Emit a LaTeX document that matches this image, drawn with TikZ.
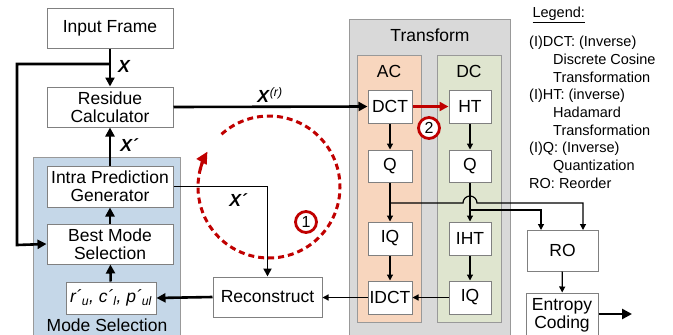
\documentclass[tikz,border=0pt]{standalone}
\usepackage{fontspec}
\setmainfont{Liberation Sans}
\usepackage{xcolor}
\usetikzlibrary{positioning,arrows.meta}

\definecolor{loopred}{RGB}{192,0,0}
\definecolor{boxgray}{RGB}{128,128,128}
\definecolor{trgray}{RGB}{217,217,217}
\definecolor{acfill}{RGB}{248,214,190}
\definecolor{dcfill}{RGB}{223,229,207}
\definecolor{msfill}{RGB}{197,215,232}

\begin{document}
\begin{tikzpicture}[
    x=1pt, y=-1pt,
    every node/.style={font=\fontsize{17.5}{18}\selectfont},
    box/.style={draw=boxgray, line width=1pt, fill=white, align=center, inner sep=1pt},
    sbox/.style={box, minimum width=44pt, minimum height=33pt},
    area/.style={draw=boxgray!80, line width=0.8pt},
    arr/.style={-{Triangle[length=9pt,width=9pt]}, line width=2.6pt},
    marr/.style={-{Triangle[length=8pt,width=8pt]}, line width=1.8pt},
    tarr/.style={-{Triangle[length=6pt,width=6pt]}, line width=1.2pt},
    lbl/.style={font=\fontsize{17.5}{18}\selectfont\bfseries\itshape},
    num/.style={circle, draw=loopred, line width=2.8pt, fill=white, inner sep=0pt,
                minimum size=21pt, font=\fontsize{16}{16}\selectfont},
]
\clip (0,0) rectangle (673,335);
% background areas
\draw[area, fill=msfill] (33,157) rectangle (180,345);
\draw[area, fill=trgray] (349,19) rectangle (510,345);
\draw[area, fill=acfill] (357,55) rectangle (421,322);
\draw[area, fill=dcfill] (437,55) rectangle (501,322);
\node (mslbl) at (107,325) {Mode Selection};
\node (trlbl) at (430,35) {Transform};
\node (aclbl) at (389,71) {AC};
\node (dclbl) at (469,71) {DC};

% left column
\node[box, minimum width=126pt, minimum height=40pt] (inp) at (110,28) {Input Frame};
\node[box, minimum width=126pt, minimum height=40pt] (res) at (110,107) {Residue\\Calculator};
\node[box, minimum width=126pt, minimum height=41pt] (ipg) at (110,186.5) {Intra Prediction\\Generator};
\node[box, minimum width=126pt, minimum height=40pt] (bms) at (110,244) {Best Mode\\Selection};
\node[box, minimum width=90pt, minimum height=32pt, font=\fontsize{17.5}{18}\selectfont\itshape] (rcp) at (111,298)
    {r´\textsubscript{u}, c´\textsubscript{l}, p´\textsubscript{ul}};
\node[box, minimum width=109pt, minimum height=40pt] (rec) at (267.5,297) {Reconstruct};

% transform blocks
\node[sbox] (dct) at (390,106.5) {DCT};
\node[sbox, minimum width=42pt] (ht) at (470,106.5) {HT};
\node[sbox, minimum height=32pt] (qac) at (390,166) {Q};
\node[sbox, minimum width=42pt, minimum height=32pt] (qdc) at (470,166) {Q};
\node[sbox] (iqac) at (390,238.5) {IQ};
\node[sbox, minimum width=42pt] (iht) at (470,238.5) {IHT};
\node[sbox] (idct) at (390,297.5) {IDCT};
\node[sbox, minimum width=42pt] (iqdc) at (470,297.5) {IQ};
\node[box, minimum width=71pt, minimum height=41pt] (ro) at (562.5,250.5) {RO};
\node[box, minimum width=72pt, minimum height=44pt] (ent) at (562,315) {Entropy\\Coding};

% legend
\node[anchor=west, font=\fontsize{14.5}{17.7}\selectfont] (leg) at (529,15) {\underline{Legend:}};
\node[anchor=north west, align=left, inner sep=0pt, font=\fontsize{14.5}{17.7}\selectfont] (legtxt) at (529,36)
    {(I)DCT: (Inverse)\\\hspace{24pt}Discrete Cosine\\\hspace{24pt}Transformation\\
     (I)HT: (inverse)\\\hspace{24pt}Hadamard\\\hspace{24pt}Transformation\\
     (I)Q: (Inverse)\\\hspace{24pt}Quantization\\RO: Reorder};

% main connectors
\coordinate (fb) at (110,64);
\draw[arr] (inp) -- (res);
\draw[line width=2.6pt, -{Triangle[length=9pt,width=9pt]}] (fb) -- (17,64) -- (17,245) -- (bms.west);
\draw[arr] (ipg) -- (res);
\draw[arr] (bms) -- (ipg);
\draw[arr] (rcp) -- (bms);
\draw[arr] (res.east) -- (dct.west);
\draw[marr] (ipg.east) -| (rec.north);
\draw[arr] (rec.west) -- (rcp.east);
\draw[tarr] (idct.west) -- (rec.east |- idct.west);
\node[lbl] (xin) at (124,66) {X};
\node[lbl] (xpr) at (129,145) {X´};
\node (xr) at (270,95) {\textbf{\textit{X}}\textsuperscript{\textit{(r)}}};
\node[lbl] (xpr2) at (238,200) {X´};

% transform connectors
\draw[draw=loopred, fill=loopred, line width=2.3pt, -{Triangle[length=9pt,width=9pt]}] (dct) -- (ht);
\draw[tarr] (dct) -- (qac);
\draw[tarr] (qac) -- (iqac);
\draw[tarr] (iqac) -- (idct);
\draw[tarr] (ht) -- (qdc);
\draw[tarr] (qdc) -- (iht);
\draw[tarr] (iht) -- (iqdc);
\draw[tarr] (iqdc) -- (idct);
\coordinate (acq) at (390,203);
\coordinate (dcq) at (470,210);
\draw[tarr] (acq) -- (463,203) arc[start angle=180, end angle=0, radius=7pt] -- (583,203) -- (583,230);
\draw[tarr] (dcq) -- (541,210) -- (541,230);
\draw[tarr] (ro) -- (ent);
\draw[line width=2.6pt, -{Triangle[length=10pt,width=10pt]}] (ent.east |- 0,314) -- (632,314);

% red loop
\coordinate (lc) at (269,187);
\draw[loopred, line width=3pt, dash pattern=on 6pt off 4pt]
    ([shift={(132:71pt)}]lc) arc[start angle=132, end angle=-205, radius=71pt];
\draw[loopred, line width=3pt, -{Triangle[length=12pt,width=11pt]}]
    ([shift={(166:71pt)}]lc) arc[start angle=166, end angle=150, radius=71pt];
\node[num] (n1) at (306,222) {1};
\node[num] (n2) at (429,128) {2};
\end{tikzpicture}
\end{document}
